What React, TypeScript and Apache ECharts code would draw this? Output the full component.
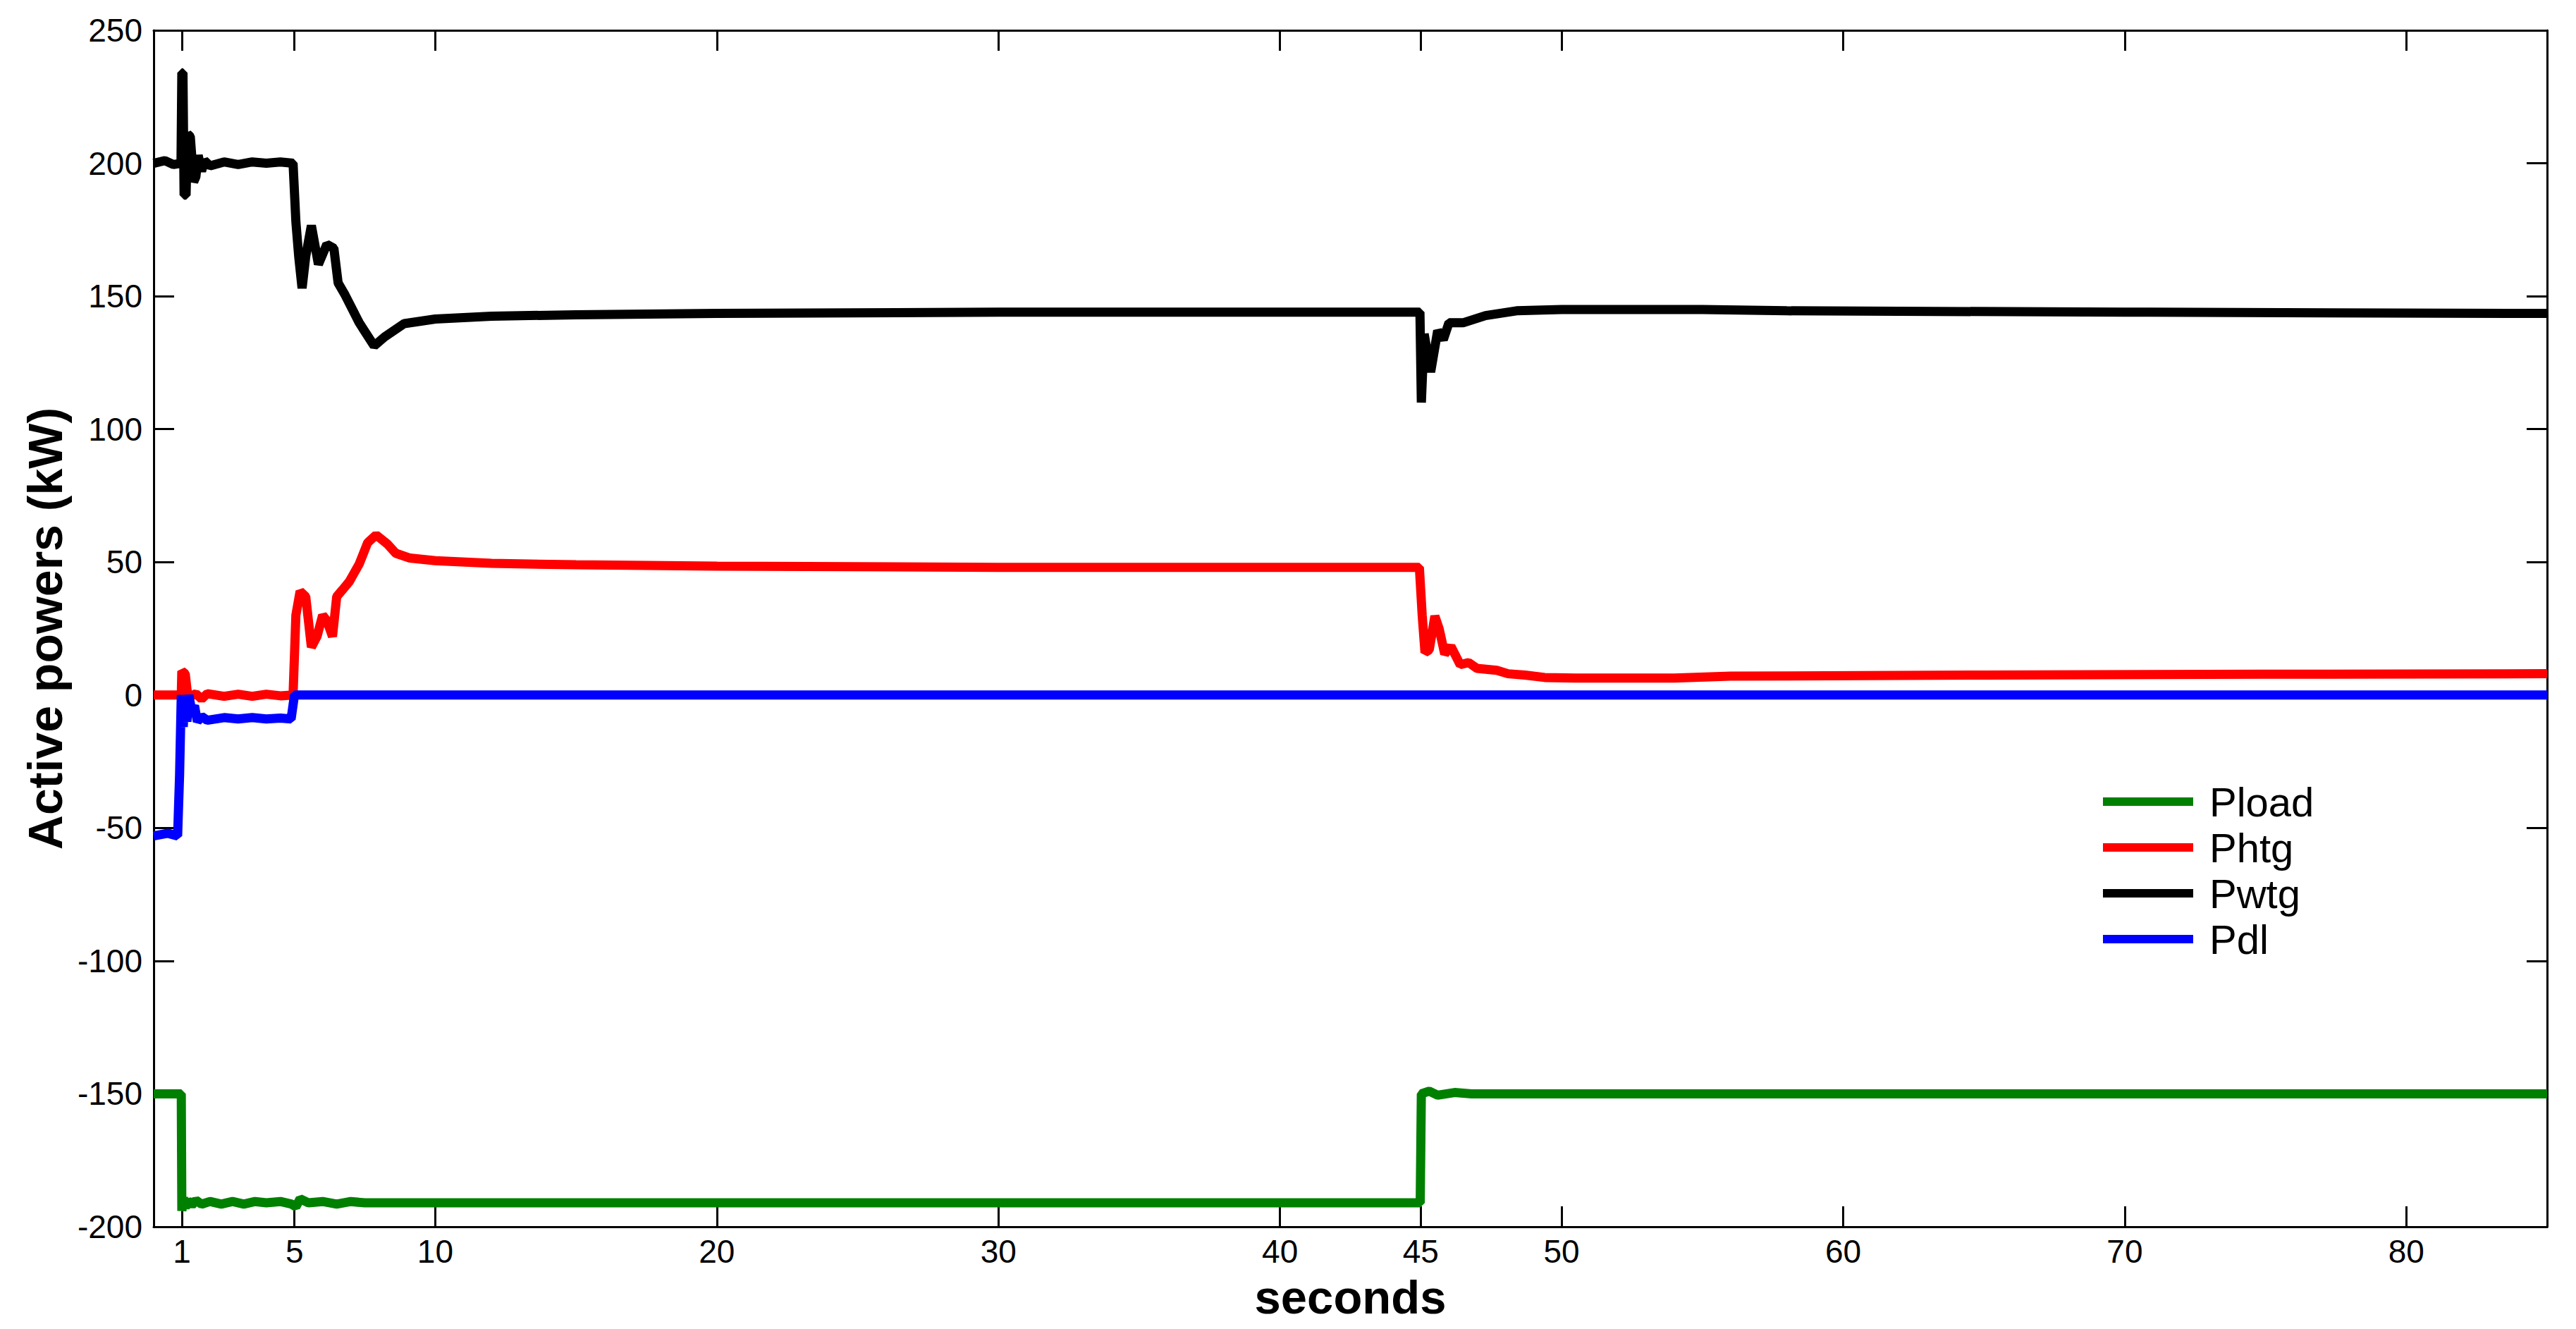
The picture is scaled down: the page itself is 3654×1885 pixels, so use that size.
import React, { useEffect, useRef } from "react";
import * as echarts from "echarts";

const X_TICKS = [1, 5, 10, 20, 30, 40, 45, 50, 60, 70, 80];
const LEGEND_NAMES = ["Pload", "Phtg", "Pwtg", "Pdl"];
const COLORS = ["#008000", "#ff0000", "#000000", "#0000ff"];

const pload: number[][] = [
  [0, -150], [0.98, -150], [1.0, -194], [1.06, -189], [1.12, -193], [1.2, -190], [1.35, -192],
  [1.5, -190], [1.7, -191.5], [2.0, -190.5], [2.4, -191.5], [2.8, -190.5], [3.2, -191.5],
  [3.6, -190.5], [4.0, -191], [4.5, -190.5], [4.9, -191.5], [5.05, -192.5], [5.2, -189.5],
  [5.5, -191], [6.0, -190.5], [6.5, -191.5], [7.0, -190.5], [7.5, -191], [10, -191], [20, -191],
  [30, -191], [44.98, -191], [45.02, -150], [45.3, -149], [45.6, -150.5], [46.2, -149.5],
  [46.8, -150], [60, -150], [85, -150],
];

const phtg: number[][] = [
  [0, 0], [0.98, 0], [1.0, 9], [1.12, 8], [1.2, 0.5], [1.3, -0.5], [1.5, 0.5], [1.7, -1.5],
  [1.9, 0.5], [2.5, -0.5], [3.0, 0.3], [3.5, -0.5], [4.0, 0.3], [4.5, -0.3], [4.95, 0],
  [5.05, 30], [5.2, 39], [5.4, 37], [5.6, 18], [5.8, 22], [6.0, 30], [6.15, 28], [6.35, 22],
  [6.5, 37], [6.7, 39.5], [6.95, 42.7], [7.3, 49.3], [7.6, 57.3], [7.9, 60.2], [8.3, 56.8],
  [8.6, 53.3], [9.1, 51.5], [10, 50.5], [12, 49.5], [15, 49], [20, 48.5], [30, 48], [44.95, 48],
  [45.05, 30], [45.15, 16], [45.3, 17], [45.5, 29.7], [45.65, 25], [45.85, 15.4], [46.07, 18.3],
  [46.4, 11.4], [46.7, 12.2], [47.0, 10], [47.7, 9.3], [48.1, 8], [48.7, 7.5], [49.4, 6.6],
  [50.5, 6.4], [54, 6.4], [56, 7.1], [65, 7.5], [75, 7.8], [85, 8],
];

const pwtg: number[][] = [
  [0, 200], [0.4, 201], [0.7, 199.5], [0.97, 200], [1.0, 234], [1.04, 234], [1.08, 188],
  [1.15, 188], [1.2, 211], [1.3, 210], [1.42, 193], [1.5, 195], [1.58, 203], [1.7, 197],
  [1.8, 201], [2.0, 199], [2.5, 200.5], [3.0, 199.5], [3.5, 200.5], [4.0, 200], [4.5, 200.5],
  [4.95, 200], [5.05, 178], [5.15, 165], [5.27, 153], [5.4, 165], [5.6, 176.6], [5.85, 162],
  [6.15, 169.5], [6.4, 168], [6.55, 155], [6.8, 150.4], [7.3, 140], [7.83, 131.3], [8.2, 134.7],
  [8.9, 139.7], [10, 141.4], [12, 142.5], [15, 143], [20, 143.5], [30, 144], [44.97, 144],
  [45.02, 110], [45.12, 135.8], [45.35, 121.5], [45.6, 137], [45.8, 133.7], [46.0, 140],
  [46.5, 140], [47.3, 142.7], [48.4, 144.5], [50, 145], [55, 145], [58, 144.5], [70, 144],
  [85, 143.5],
];

const pdl: number[][] = [
  [0, -53], [0.5, -52], [0.85, -53], [0.92, -30], [0.98, 0], [1.05, -12], [1.1, -2],
  [1.18, -10], [1.25, 0], [1.35, -6], [1.45, -4], [1.55, -10], [1.7, -8], [1.9, -9.5],
  [2.5, -8.5], [3.0, -9], [3.5, -8.5], [4.0, -9], [4.5, -8.7], [4.88, -9], [5.0, 0], [85, 0],
];

const SERIES_DATA = [pload, phtg, pwtg, pdl];

const FONT = "'Liberation Sans', Arial, Helvetica, sans-serif";

export default function App() {
  const ref = useRef<HTMLDivElement>(null);
  useEffect(() => {
    document.body.style.margin = "0";
    if (!ref.current) return;
    const chart = echarts.init(ref.current, undefined, { renderer: "svg" });
    const axisLine = { show: true, onZero: false, lineStyle: { color: "#000", width: 3 } };
    const tickStyle = { color: "#000", width: 3 };
    const option: any = {
      animation: false,
      backgroundColor: "#ffffff",
      textStyle: { fontFamily: FONT },
      grid: { left: 218, right: 41, top: 43, bottom: 145, containLabel: false },
      legend: {
        orient: "vertical",
        left: 2983,
        top: 1108,
        itemWidth: 128,
        itemHeight: 12,
        itemGap: 7,
        icon: "rect",
        padding: 0,
        data: LEGEND_NAMES,
        textStyle: { fontSize: 58, lineHeight: 58, color: "#000", fontFamily: FONT, padding: [0, 0, 0, 18] },
      },
      xAxis: [
        {
          type: "value", min: 0, max: 85, position: "bottom",
          name: "seconds", nameLocation: "middle", nameGap: 66,
          nameTextStyle: { fontSize: 67, fontWeight: "bold", color: "#000", fontFamily: FONT },
          axisLine,
          axisTick: { show: true, inside: true, length: 29, customValues: X_TICKS, lineStyle: tickStyle },
          axisLabel: { show: true, customValues: X_TICKS, fontSize: 46, color: "#000", margin: 12, fontFamily: FONT },
          splitLine: { show: false },
        },
        {
          type: "value", min: 0, max: 85, position: "top",
          axisLine,
          axisTick: { show: true, inside: true, length: 29, customValues: X_TICKS, lineStyle: tickStyle },
          axisLabel: { show: false },
          splitLine: { show: false },
        },
      ],
      yAxis: [
        {
          type: "value", min: -200, max: 250, interval: 50, position: "left",
          name: "Active powers (kW)", nameLocation: "middle", nameGap: 120,
          nameTextStyle: { fontSize: 68, fontWeight: "bold", color: "#000", fontFamily: FONT },
          axisLine,
          axisTick: { show: true, inside: true, length: 29, lineStyle: tickStyle },
          axisLabel: { show: true, fontSize: 46, color: "#000", margin: 16, fontFamily: FONT },
          splitLine: { show: false },
        },
        {
          type: "value", min: -200, max: 250, interval: 50, position: "right",
          axisLine,
          axisTick: { show: true, inside: true, length: 29, lineStyle: tickStyle },
          axisLabel: { show: false },
          splitLine: { show: false },
        },
      ],
      series: LEGEND_NAMES.map((name, i) => ({
        name,
        type: "line",
        xAxisIndex: 0,
        yAxisIndex: 0,
        data: SERIES_DATA[i],
        showSymbol: false,
        symbol: "none",
        color: COLORS[i],
        lineStyle: { color: COLORS[i], width: 13 },
        itemStyle: { color: COLORS[i] },
        z: 2 + i,
      })),
    };
    chart.setOption(option);
    return () => chart.dispose();
  }, []);
  return (
    <div
      ref={ref}
      style={{ position: "fixed", left: 0, top: 0, width: 3654, height: 1885, background: "#fff" }}
    />
  );
}
